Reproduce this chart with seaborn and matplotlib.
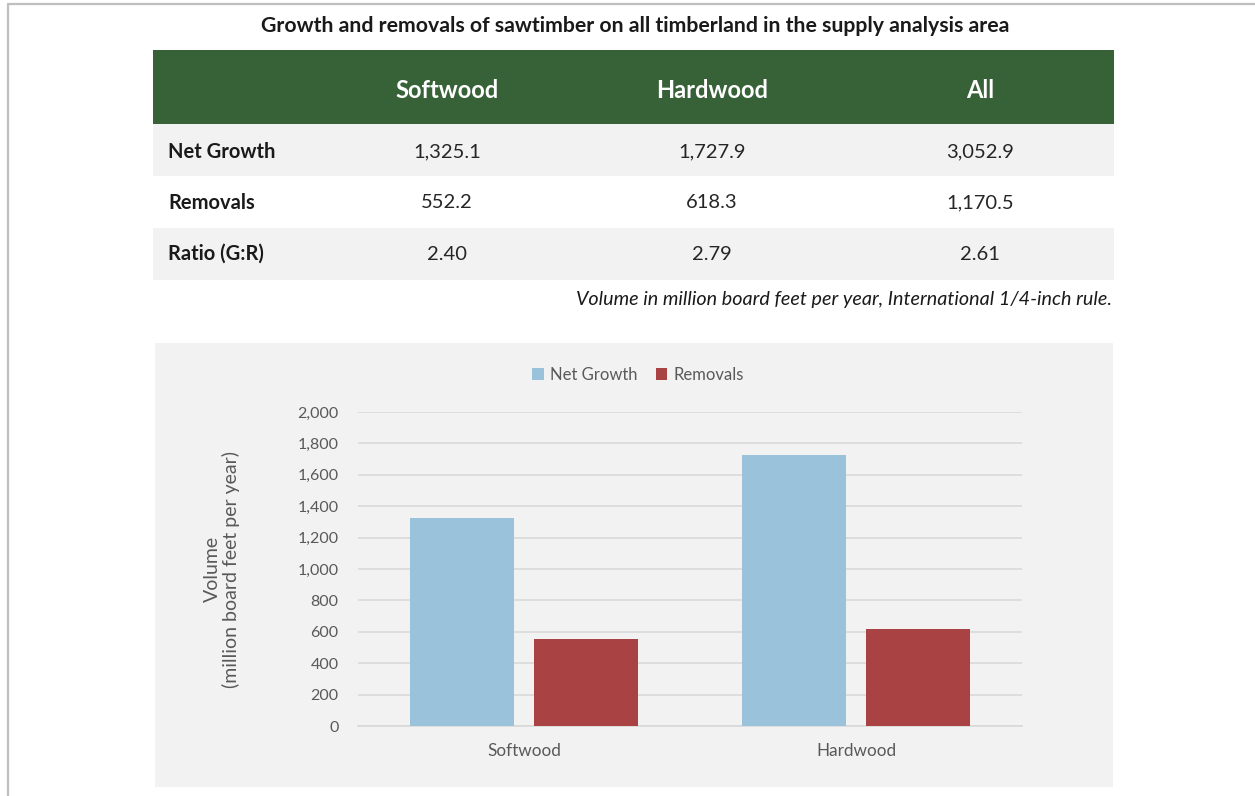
import matplotlib
matplotlib.use("Agg")
import matplotlib.pyplot as plt
from matplotlib.patches import Rectangle
from matplotlib.lines import Line2D
import seaborn as sns
import pandas as pd

# ---------------- data ----------------
title = "Growth and removals of sawtimber on all timberland in the supply analysis area"
table_columns = ["Softwood", "Hardwood", "All"]
row_labels = ["Net Growth", "Removals", "Ratio (G:R)"]
net_growth = [1325.1, 1727.9, 3052.9]
removals = [552.2, 618.3, 1170.5]
ratio = [2.40, 2.79, 2.61]
footnote = "Volume in million board feet per year, International 1/4-inch rule."

categories = ["Softwood", "Hardwood"]
series_names = ["Net Growth", "Removals"]
chart_net_growth = [1325.1, 1727.9]
chart_removals = [552.2, 618.3]
y_ticks = [0, 200, 400, 600, 800, 1000, 1200, 1400, 1600, 1800, 2000]
y_label = "Volume\n(million board feet per year)"

# ---------------- style ----------------
sns.set_theme(style="white")
plt.rcParams["font.family"] = ["Lato", "DejaVu Sans"]

W, H = 1255, 796
fig = plt.figure(figsize=(W / 100, H / 100), dpi=100, facecolor="white")

GREEN = "#376238"
LIGHT = "#f2f2f2"
BLUE = "#9bc2db"
RED = "#a94343"
GRID = "#d9d9d9"
TXT = "#595959"


def fx(x):
    return x / W


def fy(y):
    return 1 - y / H


def rect(x0, y0, x1, y1, color):
    fig.patches.append(Rectangle((fx(x0), fy(y1)), (x1 - x0) / W, (y1 - y0) / H,
                                 transform=fig.transFigure, facecolor=color,
                                 edgecolor="none", zorder=-2))


# border lines
fig.lines.append(Line2D([fx(8), fx(1255)], [fy(4), fy(4)], transform=fig.transFigure,
                        color="#bfbfbf", lw=1.6, zorder=-1))
fig.lines.append(Line2D([fx(8), fx(8)], [fy(4), fy(796)], transform=fig.transFigure,
                        color="#bfbfbf", lw=1.6, zorder=-1))

# title
fig.text(fx(635), fy(26), title, ha="center", va="center", fontsize=15.3,
         fontweight="bold", color="#1a1a1a")

# table
rect(153, 50, 1114, 124, GREEN)
rect(153, 124, 1114, 176, LIGHT)
rect(153, 176, 1112, 228, "white")
rect(153, 228, 1114, 280, LIGHT)

col_x = [447, 712, 980]
for cx, name in zip(col_x, table_columns):
    fig.text(fx(cx), fy(90), name, ha="center", va="center", fontsize=17,
             fontweight="bold", color="white")

rows = [
    [f"{v:,.1f}" for v in net_growth],
    [f"{v:,.1f}" for v in removals],
    [f"{v:.2f}" for v in ratio],
]
row_y = [152, 203, 254]
for ry, lab, vals in zip(row_y, row_labels, rows):
    fig.text(fx(168), fy(ry), lab, ha="left", va="center", fontsize=14.5,
             fontweight="bold", color="#1a1a1a")
    for cx, v in zip(col_x, vals):
        fig.text(fx(cx), fy(ry), v, ha="center", va="center", fontsize=14.5,
                 color="#262626")

fig.text(fx(1112), fy(299), footnote, ha="right", va="center", fontsize=14.2,
         style="italic", color="#1a1a1a")

# chart panel
rect(155, 343, 1113, 787, LIGHT)

ax = fig.add_axes([fx(358), fy(726), (1022 - 358) / W, (726 - 412) / H])
ax.set_zorder(2)
ax.set_facecolor(LIGHT)

df = pd.DataFrame({
    "Species": categories * 2,
    "Measure": [series_names[0]] * 2 + [series_names[1]] * 2,
    "Volume": chart_net_growth + chart_removals,
})
sns.barplot(data=df, x="Species", y="Volume", hue="Measure", order=categories,
            hue_order=series_names, palette=[BLUE, RED], width=0.747, gap=0.161,
            saturation=1, ax=ax, zorder=3, linewidth=0)

ax.set_ylim(0, 2000)
ax.set_xlim(-0.5, 1.5)
ax.set_yticks(y_ticks)
ax.set_yticklabels([f"{t:,}" for t in y_ticks])
ax.yaxis.grid(True, color=GRID, lw=1.2, zorder=0)
ax.set_axisbelow(True)
for s in ["top", "right", "left"]:
    ax.spines[s].set_visible(False)
ax.spines["bottom"].set_color(GRID)
ax.spines["bottom"].set_linewidth(1.2)
ax.tick_params(axis="both", length=0, colors=TXT)
ax.tick_params(axis="y", pad=14, labelsize=11.5)
ax.tick_params(axis="x", pad=12.5, labelsize=12.3)
ax.set_xlabel("")
ax.set_ylabel(y_label, fontsize=14, color=TXT, linespacing=1.05)
ax.yaxis.set_label_coords(-0.178, 0.5)

leg = ax.legend(loc="center", bbox_to_anchor=(fx(638), fy(375)),
                bbox_transform=fig.transFigure, ncol=2, frameon=False,
                fontsize=12, handlelength=0.7, handleheight=0.7,
                handletextpad=0.35, columnspacing=1.1, labelcolor=TXT)

fig.savefig("out.png", dpi=100, facecolor="white")
